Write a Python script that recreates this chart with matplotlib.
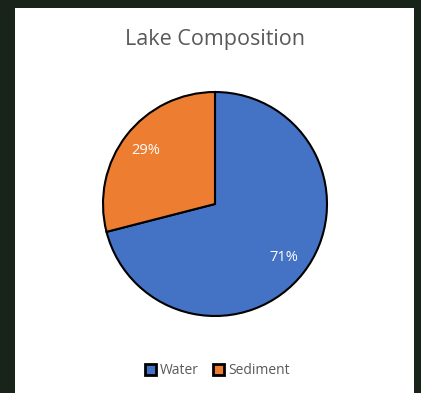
import matplotlib.pyplot as plt
from matplotlib.patches import Rectangle

labels = ['Water', 'Sediment']
shares = [71, 29]
colors = ['#4472C4', '#ED7D31']

W, H = 421, 393
fig = plt.figure(figsize=(W / 100, H / 100), dpi=100)
fig.patch.set_facecolor('#18241a')

# white chart panel
fig.patches.append(Rectangle((15 / W, 0), 399 / W, (H - 8) / H, transform=fig.transFigure,
                             facecolor='white', edgecolor='none', zorder=-1))

fig.text(215 / W, 1 - 39 / H, 'Lake Composition', ha='center', va='center',
         fontsize=15.5, color='#595959', family='Open Sans')

cx, cy, r = 215, 204, 112
ax = fig.add_axes([(cx - r) / W, (H - cy - r) / H, 2 * r / W, 2 * r / H])
ax.set_zorder(1)
ax.patch.set_visible(False)
wedges, texts, autotexts = ax.pie(shares, colors=colors, startangle=90, counterclock=False,
                                  autopct='%1.0f%%', pctdistance=0.78,
                                  wedgeprops=dict(edgecolor='black', linewidth=1.5),
                                  textprops=dict(color='white', fontsize=10.5, family='Open Sans'))
for w in wedges:
    w.set_clip_on(False)
ax.set_xlim(-1, 1)
ax.set_ylim(-1, 1)
ax.set_aspect('equal')

leg = fig.legend(wedges, labels, loc='center', bbox_to_anchor=(217 / W, 1 - 371 / H), ncol=2,
                 frameon=False, handlelength=0.8, handleheight=0.8, handletextpad=0.3,
                 columnspacing=1.0, prop=dict(family='Open Sans', size=10),
                 labelcolor='#595959')
for h in leg.legend_handles:
    h.set_linewidth(2)

fig.savefig('out.png', dpi=100, facecolor=fig.get_facecolor())
